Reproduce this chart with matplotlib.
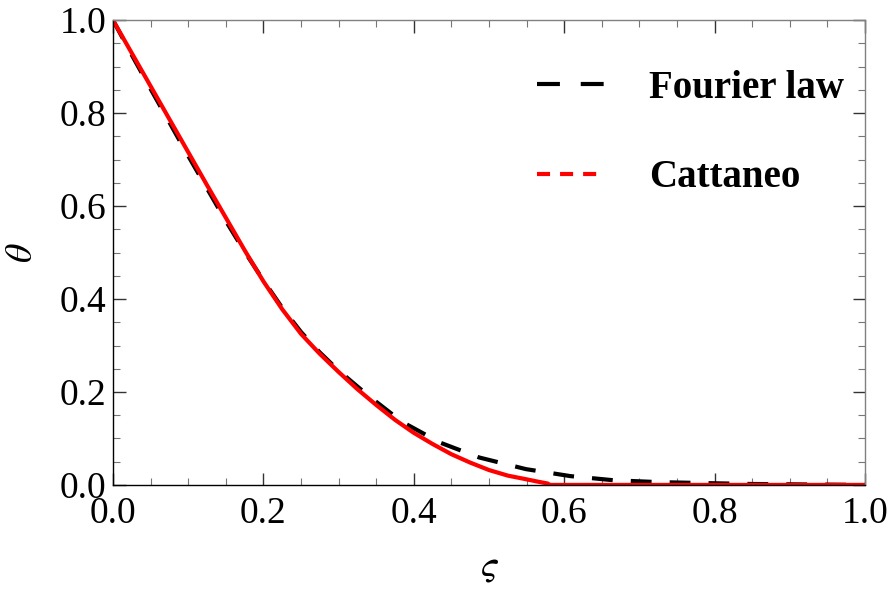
import numpy as np
import matplotlib.pyplot as plt
from matplotlib.lines import Line2D
from matplotlib.ticker import MultipleLocator

plt.rcParams['font.family'] = ['Liberation Serif', 'DejaVu Serif']
plt.rcParams['mathtext.fontset'] = 'stix'
plt.rcParams['lines.scale_dashes'] = False

# temperature profiles theta(varsigma)
s_fourier = [0.0, 0.025, 0.05, 0.075, 0.10, 0.125, 0.15, 0.175, 0.20, 0.225,
             0.25, 0.275, 0.30, 0.338, 0.384, 0.435, 0.487, 0.549, 0.608,
             0.666, 0.726, 0.785, 0.85, 0.92, 1.0]
th_fourier = [1.0, 0.925, 0.852, 0.780, 0.708, 0.638, 0.568, 0.502, 0.440, 0.381,
              0.329, 0.285, 0.246, 0.194, 0.136, 0.091, 0.059, 0.034, 0.019,
              0.010, 0.006, 0.004, 0.002, 0.001, 0.0]

s_catt = [0.0, 0.025, 0.05, 0.075, 0.10, 0.125, 0.15, 0.175, 0.20, 0.225,
          0.25, 0.275, 0.30, 0.325, 0.35, 0.375, 0.40, 0.425, 0.45, 0.475,
          0.50, 0.525, 0.55, 0.565, 0.578, 0.581, 1.0]
th_catt = [1.0, 0.929, 0.858, 0.787, 0.716, 0.645, 0.575, 0.505, 0.438, 0.378,
           0.325, 0.282, 0.243, 0.206, 0.172, 0.140, 0.112, 0.088, 0.066, 0.048,
           0.032, 0.020, 0.012, 0.007, 0.003, 0.0, 0.0]

fig = plt.figure(figsize=(8.9, 5.95), dpi=100)
ax = fig.add_axes([0.127, 0.185, 0.845, 0.781])

ax.plot(s_fourier, th_fourier, color='black', lw=3.0, dashes=(15, 13))
ax.plot(s_catt, th_catt, color='#ff0000', lw=3.0, solid_joinstyle='round')

ax.set_xlim(0, 1)
ax.set_ylim(0, 1)
ax.xaxis.set_major_locator(MultipleLocator(0.2))
ax.yaxis.set_major_locator(MultipleLocator(0.2))
ax.xaxis.set_minor_locator(MultipleLocator(0.05))
ax.yaxis.set_minor_locator(MultipleLocator(0.05))
ax.xaxis.set_major_formatter(lambda v, p: f'{v:.1f}')
ax.yaxis.set_major_formatter(lambda v, p: f'{v:.1f}')
ax.tick_params(which='both', direction='in', top=True, right=True,
               labelsize=27, color='#333333')
ax.tick_params(axis='x', which='major', length=9, width=1, pad=8)
ax.tick_params(axis='y', which='major', length=9, width=1, pad=5)
ax.tick_params(which='minor', length=5, width=0.8, color='#777777')
for side in ['left', 'bottom']:
    ax.spines[side].set_color('black')
    ax.spines[side].set_linewidth(1.0)
for side in ['top', 'right']:
    ax.spines[side].set_color('#808080')
    ax.spines[side].set_linewidth(1.0)

ax.set_xlabel(r'$\varsigma$', fontsize=27, labelpad=14)
ax.set_ylabel(r'$\theta$', fontsize=27)
ax.yaxis.set_label_coords(-0.097, 0.5)

handles = [Line2D([], [], color='black', lw=3.0, dashes=(16.5, 15)),
           Line2D([], [], color='#ff0000', lw=3.0, dashes=(9.4, 7.2))]
ax.legend(handles, ['Fourier law', 'Cattaneo'], loc='upper left',
          bbox_to_anchor=(0.517, 0.968), frameon=False,
          prop={'family': 'Liberation Serif', 'weight': 'bold', 'size': 28},
          handlelength=1.72, handletextpad=1.16, labelspacing=1.34)

plt.savefig('out.png', dpi=100)
